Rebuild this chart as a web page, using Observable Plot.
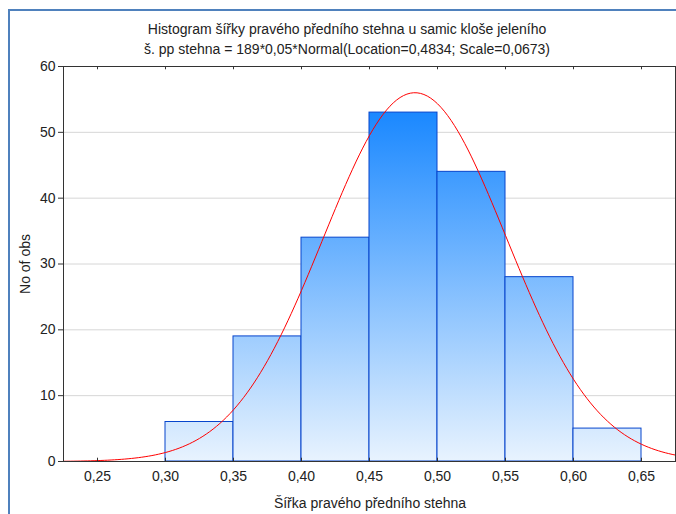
<!DOCTYPE html>
<html>
<head>
<meta charset="utf-8">
<script src="https://cdn.jsdelivr.net/npm/d3@7"></script>
<script src="https://cdn.jsdelivr.net/npm/@observablehq/plot@0.6"></script>
<style>
  html, body { margin: 0; padding: 0; background: #fff; }
  #wrap { position: relative; width: 676px; height: 514px; overflow: hidden; background: #fff;
          font-family: "Liberation Sans", Arial, sans-serif; color: #222; }
  #border { position: absolute; left: 8px; top: 9px; width: 900px; height: 900px; border: 2px solid #4f81bd; }
  #title { position: absolute; left: 0; top: 20px; width: 694px; text-align: center; font-size: 14px; line-height: 19.5px; }
  #ylabel { position: absolute; left: 25px; top: 264px; transform: translate(-50%, -50%) rotate(-90deg); font-size: 14px; white-space: nowrap; }
  #xlabel { position: absolute; left: 370px; top: 503px; transform: translate(-50%, -50%); font-size: 14px; white-space: nowrap; }
  #chart { position: absolute; left: 0; top: 56px; }
</style>
</head>
<body>
<div id="wrap">
  <div id="border"></div>
  <div id="title">Histogram šířky pravého předního stehna u samic kloše jeleního<br>š. pp stehna = 189*0,05*Normal(Location=0,4834; Scale=0,0673)</div>
  <div id="ylabel">No of obs</div>
  <div id="xlabel">Šířka pravého předního stehna</div>
  <div id="chart"></div>
</div>
<script>
// ---- data ----
const binStarts = [0.30, 0.35, 0.40, 0.45, 0.50, 0.55, 0.60];
const binEnds   = [0.35, 0.40, 0.45, 0.50, 0.55, 0.60, 0.65];
const counts    = [6, 19, 34, 53, 44, 28, 5];
const xTicks = [0.25, 0.30, 0.35, 0.40, 0.45, 0.50, 0.55, 0.60, 0.65];
const xTickLabels = ["0,25", "0,30", "0,35", "0,40", "0,45", "0,50", "0,55", "0,60", "0,65"];
const yTicks = [0, 10, 20, 30, 40, 50, 60];
// fitted normal curve parameters (from the subtitle)
const fitN = 189, fitBinWidth = 0.05, fitLocation = 0.4834, fitScale = 0.0673;

const bars = binStarts.map((s, i) => ({x1: s, x2: binEnds[i], count: counts[i]}));
const normalPdf = x => Math.exp(-0.5 * ((x - fitLocation) / fitScale) ** 2) / (fitScale * Math.sqrt(2 * Math.PI));
const curve = d3.range(0.225, 0.6751, 0.0025).map(x => ({x, y: fitN * fitBinWidth * normalPdf(x)}));
const fmt = d => xTickLabels[xTicks.findIndex(t => Math.abs(t - d) < 1e-9)] ?? "";

const chart = Plot.plot({
  width: 676, height: 458,
  marginTop: 10, marginBottom: 53, marginLeft: 63, marginRight: 1,
  style: {fontFamily: "'Liberation Sans', Arial, sans-serif", fontSize: "14px", color: "#222", background: "transparent", overflow: "visible"},
  x: {domain: [0.225, 0.675]},
  y: {domain: [0, 60]},
  marks: [
    Plot.gridY(yTicks.filter(v => v > 0 && v < 60), {stroke: "#d6d6d6", strokeOpacity: 1}),
    Plot.rectY(bars, {x1: "x1", x2: "x2", y: "count", fill: "url(#barGrad)", stroke: "#0645cc", strokeWidth: 1, inset: 0}),
    Plot.line(curve, {x: "x", y: "y", stroke: "#ff0000", strokeWidth: 1, clip: true}),
    Plot.frame({stroke: "#333"}),
    Plot.axisY({ticks: yTicks, tickSize: 5, tickPadding: 3, label: null, stroke: "#333", fontSize: 14}),
    Plot.axisX({ticks: xTicks, tickSize: 0, tickPadding: 10, label: null, tickFormat: fmt, fontSize: 14}),
    Plot.ruleX(xTicks, {y1: 0, y2: 0.5, stroke: "#333"}),
    Plot.ruleX(xTicks, {y1: 60, y2: 59.5, stroke: "#333"})
  ]
});

// gradient for the bars, spanning from the tallest bar down to zero
const ys = chart.scale("y");
const svg = d3.select(chart.tagName.toLowerCase() === "svg" ? chart : chart.querySelector("svg"));
const defs = svg.insert("defs", ":first-child");
const grad = defs.append("linearGradient")
  .attr("id", "barGrad").attr("gradientUnits", "userSpaceOnUse")
  .attr("x1", 0).attr("x2", 0)
  .attr("y1", ys.apply(d3.max(counts))).attr("y2", ys.apply(0));
grad.append("stop").attr("offset", 0).attr("stop-color", "#1a88ff");
grad.append("stop").attr("offset", 1).attr("stop-color", "#e8f3fe");

document.getElementById("chart").appendChild(chart);
</script>
</body>
</html>
